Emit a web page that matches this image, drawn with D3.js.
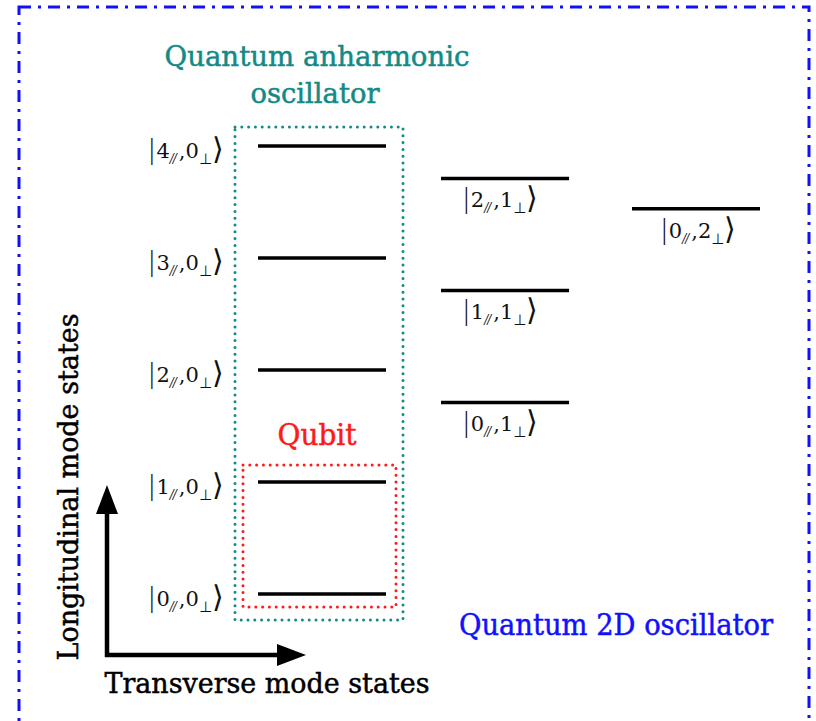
<!DOCTYPE html>
<html><head><meta charset="utf-8">
<script src="https://cdn.jsdelivr.net/npm/d3@7"></script>
<style>body{margin:0;background:#fff}</style>
</head><body><svg id="c" width="816" height="721"></svg>
<script>
// ---- data ----
const levelN = [0, 1, 2, 3, 4, 0, 1, 2, 0];          // longitudinal quantum number
const levelM = [0, 0, 0, 0, 0, 1, 1, 1, 2];          // transverse quantum number
const levelEnergy = [0, 1, 2, 3, 4, 1.71, 2.71, 3.71, 3.44];
const titleAnharmonic = ["Quantum anharmonic", "oscillator"];
const titleQubit = "Qubit";
const title2D = "Quantum 2D oscillator";
const axisXLabel = "Transverse mode states";
const axisYLabel = "Longitudinal mode states";

const svg = d3.select("#c");
const FONT = "'DejaVu Serif', serif";
const TEAL = "#128a85", RED = "#ff1a1a", BLUE = "#1010ff";

const x = d3.scaleLinear().domain([0, 1, 2]).range([322, 505, 696]);
const y = d3.scaleLinear().domain([0, 4]).range([594, 146]);
const halfW = 64;

const levels = levelN.map((n, i) => ({n, m: levelM[i], e: levelEnergy[i]}));

// size text by cap height, then squeeze to the target width; slight emboldening stroke
function fitH(t, w, cap) {
  const col = t.attr("fill");
  t.attr("font-size", cap / 0.729)
   .attr("textLength", w).attr("lengthAdjust", "spacingAndGlyphs")
   .attr("stroke", col).attr("stroke-width", 0.5);
  return t;
}

// outer dash-dot border
svg.append("rect").attr("x", 19).attr("y", 7).attr("width", 790).attr("height", 780)
  .attr("fill", "none").attr("stroke", BLUE).attr("stroke-width", 3)
  .attr("stroke-dasharray", "12 7 3 7");

// teal dotted box (anharmonic oscillator)
svg.append("rect")
  .attr("x", x(0) - 87).attr("y", y(4) - 19)
  .attr("width", 168).attr("height", y(0) - y(4) + 45)
  .attr("fill", "none").attr("stroke", TEAL).attr("stroke-width", 3)
  .attr("stroke-linecap", "round").attr("stroke-dasharray", "0 6.8");

// red dotted box (qubit)
svg.append("rect")
  .attr("x", x(0) - 79).attr("y", y(1) - 17)
  .attr("width", 153).attr("height", y(0) - y(1) + 30)
  .attr("fill", "none").attr("stroke", RED).attr("stroke-width", 3)
  .attr("stroke-linecap", "round").attr("stroke-dasharray", "0 6.8");

// energy levels
svg.append("g").selectAll("line").data(levels).join("line")
  .attr("x1", d => x(d.m) - halfW).attr("x2", d => x(d.m) + halfW)
  .attr("y1", d => y(d.e)).attr("y2", d => y(d.e))
  .attr("stroke", "#000").attr("stroke-width", 3.5);

// ket labels
function ket(g, d, xPos, yBase, anchor) {
  const t = g.append("text").attr("x", xPos).attr("y", yBase)
    .attr("text-anchor", anchor).attr("font-family", FONT).attr("font-size", 21).attr("fill", "#111");
  t.append("tspan").attr("font-size", 27).attr("font-family", "'DejaVu Sans', sans-serif").attr("font-weight", 200).text("|");
  t.append("tspan").text(d.n);
  t.append("tspan").attr("font-size", 12).attr("dy", 5).attr("font-style", "italic").attr("letter-spacing", -1).text("//");
  t.append("tspan").attr("dy", -5).attr("dx", 3).text(",");
  t.append("tspan").text(d.m);
  t.append("tspan").attr("font-size", 15).attr("dy", 6).attr("font-family", "'DejaVu Sans', sans-serif").text("⊥");
  t.append("tspan").attr("font-size", 30).attr("dy", -5).attr("font-family", "'DejaVu Sans', sans-serif").attr("font-weight", 200).text("⟩");
}
const kg = svg.append("g");
levels.forEach(d => {
  if (d.m === 0) ket(kg, d, 224, y(d.e) + 12, "end");
  else ket(kg, d, x(d.m) + (d.m === 1 ? -5 : 2), y(d.e) + 29, "middle");
});

// titles
const ta = svg.append("g").attr("font-family", FONT).attr("text-anchor", "middle");
fitH(ta.append("text").attr("x", 317).attr("y", 66).attr("fill", TEAL).text(titleAnharmonic[0]), 305, 21);
fitH(ta.append("text").attr("x", 315).attr("y", 103).attr("fill", TEAL).text(titleAnharmonic[1]), 129, 21);

fitH(svg.append("text").attr("x", 317).attr("y", 445).attr("font-family", FONT)
  .attr("fill", RED).attr("text-anchor", "middle").text(titleQubit), 79, 21.5);

fitH(svg.append("text").attr("x", 616).attr("y", 635).attr("font-family", FONT)
  .attr("fill", BLUE).attr("text-anchor", "middle").text(title2D), 314, 21.5);

// axes arrows
const ax = svg.append("g");
ax.append("line").attr("x1", 107).attr("y1", 657).attr("x2", 107).attr("y2", 508)
  .attr("stroke", "#000").attr("stroke-width", 4.5);
ax.append("line").attr("x1", 105).attr("y1", 655).attr("x2", 282).attr("y2", 655)
  .attr("stroke", "#000").attr("stroke-width", 4.5);
ax.append("path").attr("d", "M107,485 L96,514 L118,514 Z").attr("fill", "#000");
ax.append("path").attr("d", "M306,655 L277,644 L277,666 Z").attr("fill", "#000");

fitH(svg.append("text").attr("x", 267).attr("y", 693).attr("font-family", FONT)
  .attr("fill", "#000").attr("text-anchor", "middle").text(axisXLabel), 325, 20.5);

fitH(svg.append("text").attr("transform", "translate(78,487) rotate(-90)")
  .attr("font-family", FONT)
  .attr("fill", "#000").attr("text-anchor", "middle").text(axisYLabel), 347, 20.5);
</script></body></html>
